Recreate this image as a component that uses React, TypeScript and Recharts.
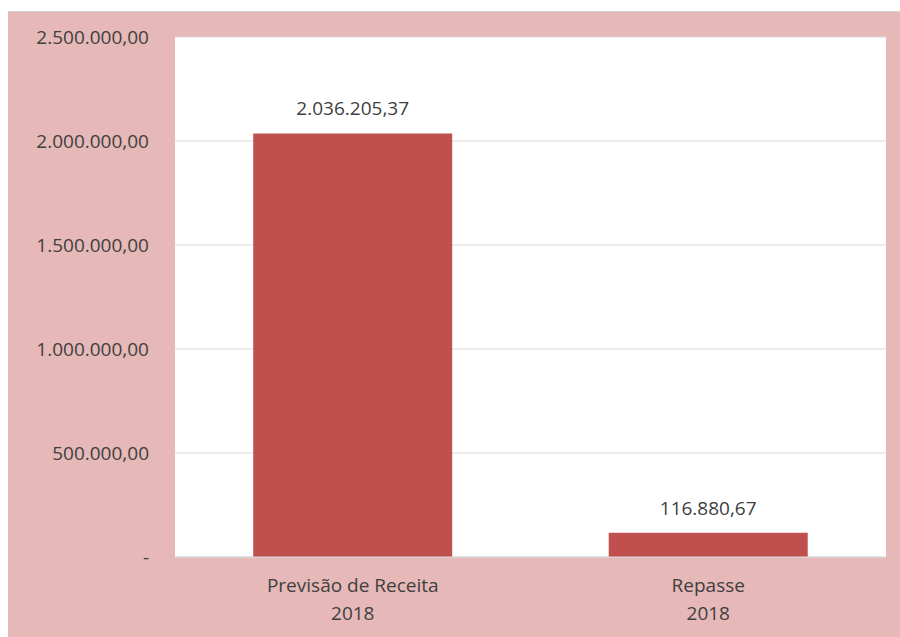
import { BarChart, Bar, XAxis, YAxis, CartesianGrid, LabelList } from "recharts";

const categorias = ["Previsão de Receita", "Repasse"];
const anos = ["2018", "2018"];
const valores = [2036205.37, 116880.67];
const yTicks = [0, 500000, 1000000, 1500000, 2000000, 2500000];

const FONT = "'Open Sans', sans-serif";
const TEXT = "#404040";
const FS = 19;

function formatBR(v: number) {
  const [int, dec] = Math.abs(v).toFixed(2).split(".");
  const withDots = int.replace(/\B(?=(\d{3})+(?!\d))/g, ".");
  return `${v < 0 ? "-" : ""}${withDots},${dec}`;
}

const data = categorias.map((c, i) => ({ categoria: c, ano: anos[i], valor: valores[i] }));

function CategoryTick({ x, y, payload, index }: any) {
  const ano = anos[index ?? 0];
  return (
    <g transform={`translate(${x},${y})`}>
      <text textAnchor="middle" fill={TEXT} fontSize={FS} fontFamily={FONT}>
        <tspan x={0} dy={27}>{payload.value}</tspan>
        <tspan x={0} dy={28}>{ano}</tspan>
      </text>
    </g>
  );
}

export default function App() {
  return (
    <div
      style={{
        position: "fixed",
        left: 8,
        top: 11,
        right: 0,
        bottom: 0,
        background: "#E6B8B7",
        borderTop: "1px solid #d0d0d0",
        boxSizing: "border-box",
        overflow: "hidden",
      }}
    >
      <BarChart
        width={892}
        height={625}
        data={data}
        margin={{ top: 25, right: 14, left: 0, bottom: 50 }}
        barCategoryGap="22%"
      >
        <CartesianGrid vertical={false} stroke="#d9d9d9" fill="#ffffff" />
        <XAxis
          dataKey="categoria"
          tick={<CategoryTick />}
          tickLine={false}
          axisLine={{ stroke: "#d9d9d9" }}
          interval={0}
        />
        <YAxis
          width={167}
          domain={[0, 2500000]}
          ticks={yTicks}
          tickFormatter={(v: number) => (v === 0 ? "-" : formatBR(v))}
          tick={{ fill: TEXT, fontSize: FS, fontFamily: FONT }}
          axisLine={false}
          tickLine={false}
          tickMargin={20}
        />
        <Bar dataKey="valor" fill="#C0504D" isAnimationActive={false}>
          <LabelList
            dataKey="valor"
            position="top"
            offset={18}
            formatter={(v: any) => formatBR(Number(v))}
            style={{ fill: TEXT, fontSize: FS, fontFamily: FONT }}
          />
        </Bar>
      </BarChart>
    </div>
  );
}
